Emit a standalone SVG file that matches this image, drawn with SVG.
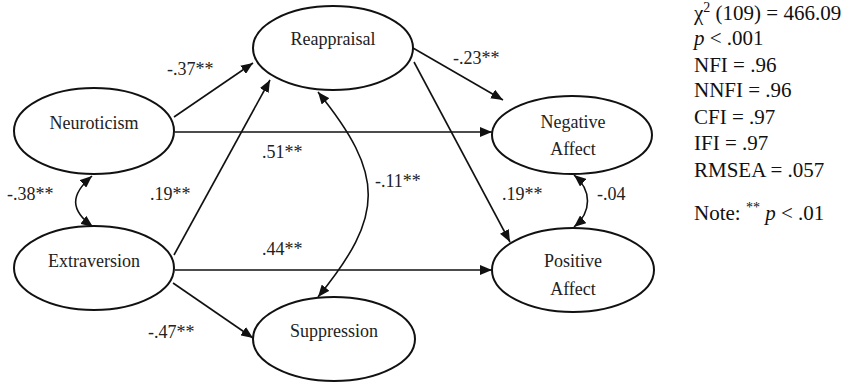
<svg xmlns="http://www.w3.org/2000/svg" width="850" height="382" viewBox="0 0 850 382">
<style>
.node ellipse{fill:#fff;stroke:#111;stroke-width:2}
.lbl{font-family:"Liberation Serif","Times New Roman",serif;font-size:18px;fill:#222;text-anchor:middle}
.coef{font-family:"Liberation Serif","Times New Roman",serif;font-size:18px;fill:#222}
.stat{font-family:"Liberation Serif","Times New Roman",serif;font-size:21px;fill:#111}
.edge{fill:none;stroke:#111;stroke-width:1.6;marker-end:url(#ah)}
.dbl{marker-start:url(#ah)}
</style>
<defs>
<marker id="ah" markerUnits="userSpaceOnUse" markerWidth="12" markerHeight="10" viewBox="0 0 12 10" refX="12" refY="5" orient="auto-start-reverse">
<path d="M0,0 L12,5 L0,10 z" fill="#111"/>
</marker>
</defs>
<rect width="850" height="382" fill="#fff"/>
<g id="connectors">
<path class="edge" d="M174,117 L253,63"/>
<path class="edge" d="M175,132 L492,132"/>
<path class="edge" d="M174,255 L270,80"/>
<path class="edge" d="M175,270 L492,270"/>
<path class="edge" d="M173,283 L253,338"/>
<path class="edge" d="M413,48 L503,100"/>
<path class="edge" d="M414,62 L510,242"/>
<path class="edge dbl" d="M92,176 C70,195 70,210 93,227"/>
<path class="edge dbl" d="M318,92 C385,175 385,215 318,297"/>
<path class="edge dbl" d="M574,175 C592,190 592,212 574,227"/>
</g>
<g id="neuroticism" class="node"><ellipse cx="94" cy="131" rx="80" ry="43"/><text class="lbl" x="94" y="129">Neuroticism</text></g>
<g id="extraversion" class="node"><ellipse cx="94" cy="268" rx="80" ry="42"/><text class="lbl" x="94" y="267">Extraversion</text></g>
<g id="reappraisal" class="node"><ellipse cx="333" cy="48" rx="80" ry="42"/><text class="lbl" x="333" y="45">Reappraisal</text></g>
<g id="suppression" class="node"><ellipse cx="334" cy="339" rx="81" ry="42"/><text class="lbl" x="334" y="337">Suppression</text></g>
<g id="negative-affect" class="node"><ellipse cx="572" cy="135" rx="80" ry="39"/><text class="lbl" x="573" y="128">Negative</text><text class="lbl" x="573" y="155">Affect</text></g>
<g id="positive-affect" class="node"><ellipse cx="573" cy="270" rx="81" ry="42"/><text class="lbl" x="573" y="267">Positive</text><text class="lbl" x="573" y="295">Affect</text></g>
<g id="coefficients">
<text class="coef" x="167" y="75">-.37**</text>
<text class="coef" x="262" y="158">.51**</text>
<text class="coef" x="375" y="187">-.11**</text>
<text class="coef" x="7" y="200">-.38**</text>
<text class="coef" x="150" y="200">.19**</text>
<text class="coef" x="262" y="255">.44**</text>
<text class="coef" x="148" y="338">-.47**</text>
<text class="coef" x="453" y="64">-.23**</text>
<text class="coef" x="502" y="200">.19**</text>
<text class="coef" x="597" y="200">-.04</text>
</g>
<g id="fit-statistics">
<text class="stat" x="694" y="20">χ<tspan font-size="14" dy="-8">2</tspan><tspan dy="8"> (109) = 466.09</tspan></text>
<text class="stat" x="694" y="45"><tspan font-style="italic">p</tspan> &lt; .001</text>
<text class="stat" x="694" y="72">NFI = .96</text>
<text class="stat" x="694" y="97">NNFI = .96</text>
<text class="stat" x="694" y="124">CFI = .97</text>
<text class="stat" x="694" y="150">IFI = .97</text>
<text class="stat" x="694" y="177">RMSEA = .057</text>
<text class="stat" x="694" y="220">Note:  <tspan font-size="14" dy="-8">**</tspan><tspan dy="8" font-style="italic"> p</tspan> &lt; .01</text>
</g>
</svg>
